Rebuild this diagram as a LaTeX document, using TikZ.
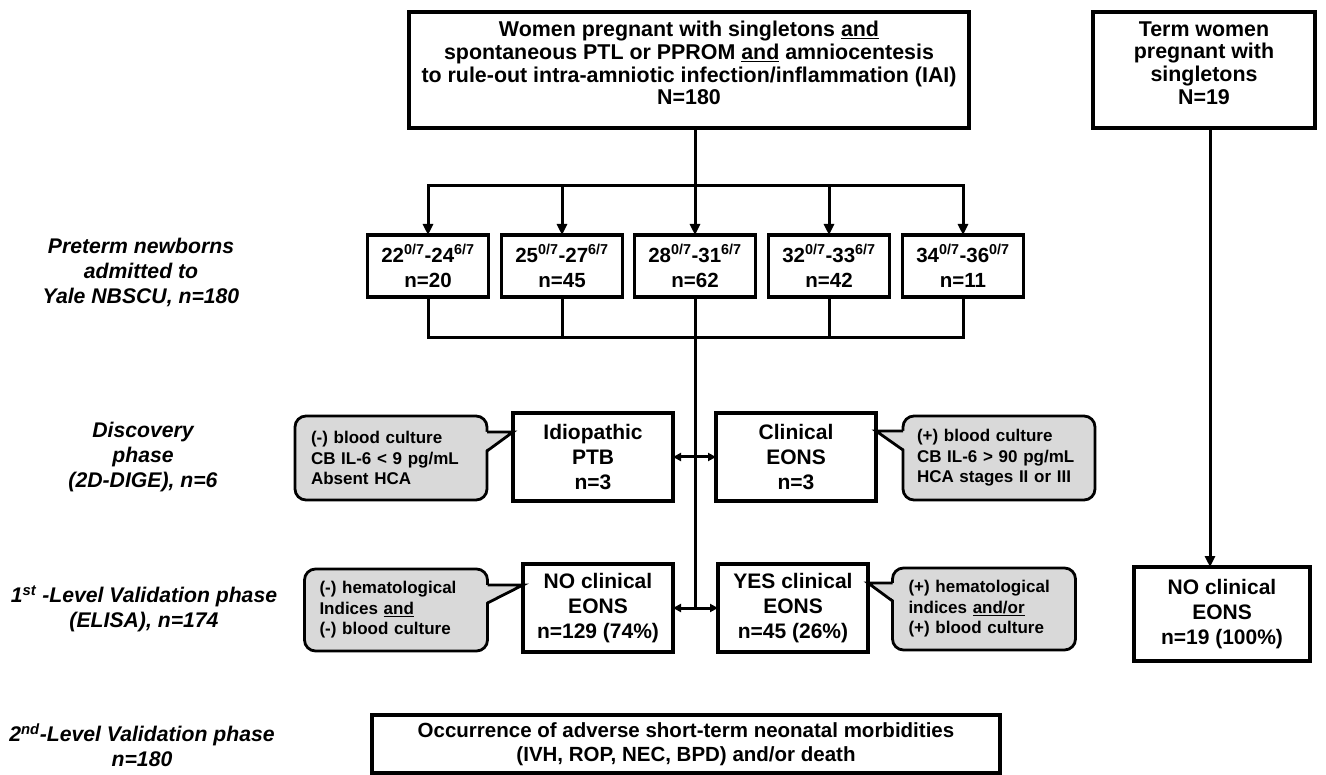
\documentclass[tikz,border=0pt]{standalone}
\usepackage{fontspec}
\setmainfont{Liberation Sans}
\usetikzlibrary{arrows.meta,calc}
\definecolor{calloutgray}{RGB}{217,217,217}
\tikzset{
  every node/.style={inner sep=0pt, outer sep=0pt},
  box/.style={draw, line width=3.2pt, fill=white, align=center,
    font=\bfseries\fontsize{21}{25}\selectfont},
  toptext/.style={align=center, font=\bfseries\fontsize{21.4}{22.8}\selectfont},
  agebox/.style={box, minimum width=121pt, minimum height=62pt,
    font=\bfseries\fontsize{20.5}{25}\selectfont},
  callout/.style={draw, line width=2.8pt, fill=calloutgray, rounded corners=11pt,
    align=left, font=\bfseries\fontsize{17}{20.5}\selectfont},
  phase/.style={align=center, font=\bfseries\itshape\fontsize{21.2}{25}\selectfont},
  conn/.style={line width=3pt},
  arr/.style={line width=3pt, -{Triangle[length=11pt,width=10pt]}},
  darr/.style={line width=3pt, {Triangle[length=8pt,width=8pt]}-{Triangle[length=8pt,width=8pt]}},
  wedge/.style={line width=2.8pt, line join=miter},
}
\begin{document}
\begin{tikzpicture}[x=1pt,y=-1pt]
\useasboundingbox (0,0) rectangle (1326,775);

% top boxes
\node[box, minimum width=560pt, minimum height=116pt] (top) at (689,70) {};
\node[toptext] (toptxt) at (689,63)
  {Women pregnant with singletons \underline{and}\\
   spontaneous PTL or PPROM \underline{and} amniocentesis\\
   to rule-out intra-amniotic infection/inflammation (IAI)\\
   N=180};
\node[box, minimum width=222pt, minimum height=116pt] (term) at (1204,70) {};
\node[toptext] (termtxt) at (1204,63)
  {Term women\\ pregnant with\\ singletons\\ N=19};

% phase labels
\node[phase] (l1) at (141,272) {Preterm newborns\\ admitted to\\ Yale NBSCU, n=180};
\node[phase] (l2) at (143,457) {Discovery\\ phase\\ (2D-DIGE), n=6};
\node[phase] (l3) at (144,609) {1\textsuperscript{st} -Level Validation phase\\ (ELISA), n=174};
\node[phase] (l4) at (142,745) {2\textsuperscript{nd}-Level Validation phase\\ n=180};

% gestational age boxes
\node[agebox] (g1) at (428,266) {22\textsuperscript{0/7}-24\textsuperscript{6/7}\\ n=20};
\node[agebox] (g2) at (562,266) {25\textsuperscript{0/7}-27\textsuperscript{6/7}\\ n=45};
\node[agebox] (g3) at (695,266) {28\textsuperscript{0/7}-31\textsuperscript{6/7}\\ n=62};
\node[agebox] (g4) at (829,266) {32\textsuperscript{0/7}-33\textsuperscript{6/7}\\ n=42};
\node[agebox] (g5) at (963,266) {34\textsuperscript{0/7}-36\textsuperscript{0/7}\\ n=11};

\coordinate (split) at (695,186);
\coordinate (merge) at (695,338);

% discovery row
\node[box, minimum width=160pt, minimum height=88pt] (idio) at (593,457) {Idiopathic\\ PTB\\ n=3};
\node[box, minimum width=160pt, minimum height=88pt] (clin) at (796,457) {Clinical\\ EONS\\ n=3};
\node[callout, minimum width=192pt, minimum height=84pt, text width=160pt] (dcl) at (391,458)
  {(-) blood culture\\ CB IL-6 < 9 pg/mL\\ Absent HCA};
\node[callout, minimum width=192pt, minimum height=84pt, text width=164pt] (dcr) at (999,458)
  {(+) blood culture\\ CB IL-6 > 90 pg/mL\\ HCA stages II or III};

% validation row
\node[box, minimum width=150pt, minimum height=88pt] (noe) at (598,608) {NO clinical\\ EONS\\ n=129 (74\%)};
\node[box, minimum width=150pt, minimum height=88pt] (yese) at (793,608) {YES clinical\\ EONS\\ n=45 (26\%)};
\node[callout, minimum width=183pt, minimum height=82pt, text width=153pt] (vcl) at (396,610)
  {(-) hematological\\ Indices \underline{and}\\ (-) blood culture};
\node[callout, minimum width=183pt, minimum height=82pt, text width=151pt] (vcr) at (984,609)
  {(+) hematological\\ indices \underline{and/or}\\ (+) blood culture};

\node[box, minimum width=176pt, minimum height=94pt] (termno) at (1222,614) {NO clinical\\ EONS\\ n=19 (100\%)};

% bottom box
\node[box, minimum width=628pt, minimum height=58pt,
  font=\bfseries\fontsize{20.5}{24}\selectfont] (morb) at (686,744)
  {Occurrence of adverse short-term neonatal morbidities\\ (IVH, ROP, NEC, BPD) and/or death};

% connectors
\draw[conn] (split |- top.south) -- (split);
\foreach \g in {g1,g2,g4,g5} \draw[arr] (split) -| (\g.north);
\draw[arr] (split) -- (g3.north);
\foreach \g in {g1,g2,g4,g5} \draw[conn] (\g.south) |- (merge);
\draw[conn] (g3.south) -- (merge);
\coordinate (vmid) at (merge |- noe.east);
\draw[conn] (merge) -- (vmid);
\draw[darr] (idio.east) -- (clin.west);
\draw[darr] (noe.east) -- (yese.west);
\coordinate (tx) at (1210,0);
\draw[arr] (term.south -| tx) -- (termno.north -| tx);

% callout wedges
\coordinate (t1) at ($(idio.north west)+(0,19)$);
\coordinate (a1) at (dcl.east |- t1);
\coordinate (b1) at ($(a1)+(0,19)$);
\fill[calloutgray] ($(a1)+(-3,0)$) -- (t1) -- ($(b1)+(-3,0)$) -- cycle;
\draw[wedge] (a1) -- (t1) -- (b1);

\coordinate (t2) at ($(clin.north east)+(0,18)$);
\coordinate (a2) at (dcr.west |- t2);
\coordinate (b2) at ($(a2)+(0,19)$);
\fill[calloutgray] ($(a2)+(3,0)$) -- (t2) -- ($(b2)+(3,0)$) -- cycle;
\draw[wedge] (a2) -- (t2) -- (b2);

\coordinate (t3) at ($(noe.north west)+(0,21)$);
\coordinate (a3) at (vcl.east |- t3);
\coordinate (b3) at ($(a3)+(0,18)$);
\fill[calloutgray] ($(a3)+(-3,0)$) -- (t3) -- ($(b3)+(-3,0)$) -- cycle;
\draw[wedge] (a3) -- (t3) -- (b3);

\coordinate (t4) at ($(yese.north east)+(0,19)$);
\coordinate (a4) at (vcr.west |- t4);
\coordinate (b4) at ($(a4)+(0,18)$);
\fill[calloutgray] ($(a4)+(3,0)$) -- (t4) -- ($(b4)+(3,0)$) -- cycle;
\draw[wedge] (a4) -- (t4) -- (b4);
\end{tikzpicture}
\end{document}
